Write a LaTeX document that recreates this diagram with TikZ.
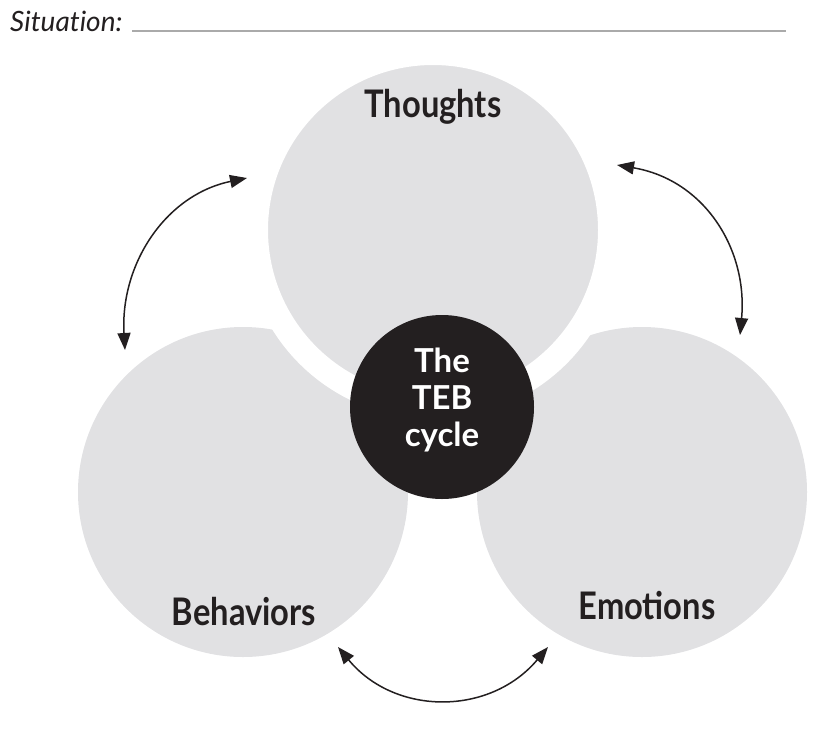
\documentclass[tikz,border=0pt]{standalone}
\usepackage{fontspec}
\setmainfont{Lato}[Ligatures=NoCommon]
\newfontfamily\lblfont{Lato}[FakeStretch=0.86]
\usetikzlibrary{arrows.meta}
\definecolor{tebgray}{RGB}{225,225,227}
\definecolor{tebblack}{RGB}{35,31,32}
\definecolor{lineg}{RGB}{170,170,170}
\begin{document}
\begin{tikzpicture}[x=1pt,y=-1pt,
  bigdisc/.style={circle,inner sep=0pt,minimum size=330pt,fill=tebgray},
  topdisc/.style={circle,inner sep=0pt,minimum size=354pt,fill=tebgray,draw=white,line width=24pt},
  hubdisc/.style={circle,inner sep=0pt,minimum size=184pt,fill=tebblack},
  lbl/.style={anchor=base,inner sep=0pt,text=tebblack,font=\lblfont\fontsize{38}{40}\selectfont\bfseries},
  hubtext/.style={align=center,text=white,inner sep=0pt,font=\fontsize{33}{37}\selectfont\bfseries},
  cyc/.style={{Triangle[length=17pt,width=13pt]}-{Triangle[length=17pt,width=13pt]},line width=1.5pt,draw=tebblack}
]
\useasboundingbox (0,0) rectangle (834,734);
% title
\node[anchor=base west,inner sep=0pt,text=tebblack,font=\fontsize{28}{30}\selectfont\itshape] (sit) at (10,31) {Situation:};
\coordinate (lineA) at (132,31);
\coordinate (lineB) at (786,31);
\draw[lineg,line width=2pt] (lineA) -- (lineB);
% circles
\node[bigdisc] (behav) at (243,492) {};
\node[bigdisc] (emot) at (642,492) {};
\node[topdisc] (thought) at (433,230) {};
\node[hubdisc] (hub) at (442,407) {};
% labels
\node[lbl] (tlbl) at (433,117) {Thoughts};
\node[lbl] (blbl) at (244,625) {Behaviors};
\node[lbl] (elbl) at (647,619) {Emotions};
\node[hubtext] (hubt) at (442,400) {The\\TEB\\cycle};
% cycle arrows
\coordinate (l1) at (125,350);
\coordinate (l2) at (247,178);
\coordinate (r1) at (617,165);
\coordinate (r2) at (740,335);
\coordinate (b1) at (338,647);
\coordinate (b2) at (548,647);
\draw[cyc] (l1) .. controls (120,265) and (165,195) .. (l2);
\draw[cyc] (r1) .. controls (705,180) and (748,250) .. (r2);
\draw[cyc] (b1) .. controls (395,716) and (490,716) .. (b2);
\end{tikzpicture}
\end{document}
